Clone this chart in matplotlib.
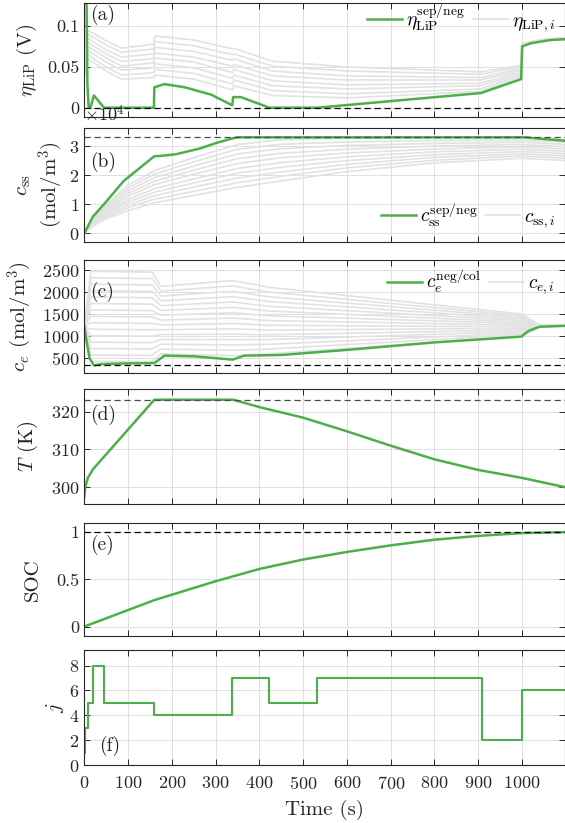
import numpy as np
import matplotlib.pyplot as plt
from matplotlib.lines import Line2D

plt.rcParams['font.family'] = 'serif'
plt.rcParams['font.serif'] = ['cmr10']
plt.rcParams['mathtext.fontset'] = 'cm'
plt.rcParams['axes.formatter.use_mathtext'] = True
plt.rcParams['axes.unicode_minus'] = False

GREEN = '#4daf4a'
GRAY = '#e2e2e2'

# (a) lithium plating overpotential
t_eta = [0, 5, 7, 10, 14, 22, 45, 159, 160, 183, 230, 290, 338, 340, 358, 423, 532, 906, 998, 1000, 1020, 1065, 1100]
eta_sep = [0.16, 0.14, 0.03, 0.0, 0.0, 0.015, 0.0, 0.0, 0.025, 0.029, 0.025, 0.016, 0.003, 0.013, 0.013, 0.0, 0.0, 0.018, 0.035, 0.075, 0.079, 0.083, 0.084]
t_eta_i = [3, 8, 50, 85, 159, 161, 250, 339, 341, 430, 600, 905, 999, 1001, 1050, 1100]
eta_i = [
    [0.085, 0.095, 0.082, 0.073, 0.078, 0.088, 0.083, 0.072, 0.073, 0.057, 0.050, 0.044, 0.052, 0.079, 0.084, 0.085],
    [0.079, 0.090, 0.077, 0.068, 0.072, 0.081, 0.076, 0.065, 0.066, 0.051, 0.045, 0.041, 0.050, 0.079, 0.084, 0.085],
    [0.072, 0.085, 0.071, 0.062, 0.066, 0.074, 0.069, 0.058, 0.060, 0.045, 0.039, 0.037, 0.048, 0.078, 0.084, 0.085],
    [0.066, 0.080, 0.066, 0.057, 0.060, 0.067, 0.062, 0.051, 0.053, 0.039, 0.034, 0.034, 0.046, 0.078, 0.084, 0.085],
    [0.059, 0.075, 0.061, 0.051, 0.055, 0.061, 0.056, 0.043, 0.047, 0.033, 0.028, 0.030, 0.044, 0.077, 0.084, 0.085],
    [0.053, 0.070, 0.056, 0.046, 0.049, 0.054, 0.049, 0.036, 0.040, 0.027, 0.023, 0.027, 0.042, 0.077, 0.084, 0.085],
    [0.046, 0.065, 0.050, 0.040, 0.043, 0.047, 0.042, 0.029, 0.034, 0.021, 0.017, 0.023, 0.040, 0.076, 0.084, 0.085],
    [0.040, 0.060, 0.045, 0.035, 0.037, 0.040, 0.035, 0.022, 0.027, 0.015, 0.012, 0.020, 0.038, 0.076, 0.084, 0.085],
]

# (b) surface concentration, mol/m^3
t_css = [0, 20, 45, 90, 160, 175, 210, 265, 300, 335, 350, 1008, 1050, 1100]
css_sep = [0, 5800, 10000, 18000, 26500, 26600, 27200, 29200, 31000, 32500, 33000, 33000, 32400, 31800]
t_css_i = [0, 20, 50, 100, 160, 250, 350, 450, 600, 800, 1000, 1100]
css_i = [
    [0, 5500, 9800, 16500, 21500, 26000, 30500, 32200, 32700, 32800, 32800, 32200],
    [0, 5200, 9300, 15500, 20300, 24600, 28900, 30600, 31400, 31900, 32000, 31400],
    [0, 4800, 8700, 14600, 19100, 23100, 27300, 29100, 30200, 30900, 31300, 30600],
    [0, 4500, 8200, 13600, 17900, 21700, 25700, 27500, 28900, 30000, 30500, 29800],
    [0, 4200, 7700, 12700, 16700, 20300, 24000, 26000, 27600, 29000, 29700, 29000],
    [0, 3800, 7100, 11600, 15300, 18700, 22300, 24300, 26300, 28000, 28900, 28200],
    [0, 3500, 6600, 10700, 14100, 17300, 20700, 22700, 25000, 27000, 28100, 27400],
    [0, 3200, 6100, 9700, 12900, 15900, 19000, 21100, 23700, 26100, 27300, 26600],
    [0, 2800, 5500, 8800, 11700, 14400, 17400, 19600, 22500, 25100, 26600, 25800],
    [0, 2500, 5000, 7800, 10500, 13000, 15800, 18000, 21200, 24200, 25800, 25000],
]

# (c) electrolyte concentration, mol/m^3
t_ce = [0, 5, 12, 22, 40, 100, 160, 183, 250, 339, 365, 450, 600, 800, 998, 1015, 1040, 1100]
ce_neg = [1230, 900, 500, 340, 370, 385, 390, 560, 545, 470, 560, 575, 690, 860, 990, 1120, 1215, 1235]
t_ce_i = [0, 15, 155, 175, 340, 420, 1000, 1040, 1100]
ce_i = [
    [1230, 430, 420, 600, 560, 600, 1000, 1210, 1235],
    [1230, 576, 565, 709, 681, 708, 1036, 1214, 1235],
    [1230, 721, 710, 819, 803, 816, 1071, 1217, 1236],
    [1230, 867, 855, 928, 924, 924, 1107, 1221, 1236],
    [1230, 1013, 1000, 1037, 1046, 1032, 1143, 1224, 1236],
    [1230, 1159, 1145, 1146, 1167, 1140, 1179, 1228, 1237],
    [1230, 1304, 1290, 1256, 1288, 1247, 1214, 1231, 1237],
    [1230, 1450, 1435, 1365, 1410, 1355, 1250, 1235, 1238],
    [1230, 1596, 1580, 1474, 1531, 1463, 1286, 1239, 1238],
    [1230, 1741, 1725, 1584, 1653, 1571, 1321, 1242, 1238],
    [1230, 1887, 1870, 1693, 1774, 1679, 1357, 1246, 1239],
    [1230, 2033, 2015, 1802, 1896, 1787, 1393, 1249, 1239],
    [1230, 2179, 2160, 1911, 2017, 1894, 1429, 1253, 1239],
    [1230, 2324, 2305, 2021, 2139, 2002, 1464, 1256, 1240],
    [1230, 2470, 2450, 2130, 2260, 2110, 1500, 1260, 1240],
]

# (d) temperature
t_T = [0, 2, 8, 20, 160, 340, 400, 500, 600, 700, 800, 900, 1000, 1100]
T = [297.5, 300, 302.5, 304.8, 323.15, 323.15, 321.2, 318.4, 314.8, 311.0, 307.4, 304.6, 302.5, 300.0]

# (e) state of charge
t_soc = [0, 100, 160, 300, 400, 500, 600, 700, 800, 900, 1000, 1100]
soc = [0, 0.175, 0.28, 0.48, 0.61, 0.71, 0.79, 0.86, 0.92, 0.96, 0.99, 1.0]

# (f) protocol index
t_j = [0, 2, 9, 19, 46, 160, 338, 422, 532, 908, 1000, 1100]
j = [1, 3, 5, 8, 5, 4, 7, 5, 7, 2, 6, 6]

W, H = 565, 823
fig = plt.figure(figsize=(W / 100, H / 100), dpi=100)


def make_ax(top, bottom):
    ax = fig.add_axes([84.3 / W, 1 - bottom / H, 480.2 / W, (bottom - top) / H])
    ax.set_xlim(0, 1097)
    ax.set_xticks(range(0, 1001, 100))
    ax.tick_params(direction='in', top=True, right=True, length=4, width=0.7,
                   color='0.15', labelsize=13, labelcolor='0.15', labelbottom=False)
    ax.tick_params(axis='x', pad=7)
    ax.grid(True, color='0.88', lw=0.7)
    ax.set_axisbelow(True)
    for s in ax.spines.values():
        s.set_color('0.15')
        s.set_linewidth(0.8)
    return ax


def ylab(ax, text, xpx):
    ax.set_ylabel(text, fontsize=15, va='center', color='0.15')
    ax.yaxis.set_label_coords((xpx - 84.3) / 480.2, 0.5)


def add_legend(ax, labels, **kw):
    ax.legend([Line2D([], [], color=GREEN, lw=1.8), Line2D([], [], color=GRAY, lw=1.2)],
              labels, ncol=2, frameon=False, fontsize=14, handlelength=1.8,
              columnspacing=0.4, handletextpad=0.2, **kw)


# (a)
ax = make_ax(3.3, 116.7)
for row in eta_i:
    ax.plot(t_eta_i, row, color=GRAY, lw=1.2)
ax.plot(t_eta, eta_sep, color=GREEN, lw=1.8)
ax.axhline(0, color='k', ls='--', lw=0.9, dashes=(5, 3))
ax.set_ylim(-0.011, 0.128)
ax.set_yticks([0, 0.05, 0.1], ['0', '0.05', '0.1'])
ylab(ax, r'$\eta_{\rm LiP}$ (V)', 27)
ax.text(0.012, 0.9, '(a)', transform=ax.transAxes, fontsize=14, va='center', color='0.15')
add_legend(ax, [r'$\eta_{\rm LiP}^{\rm sep/neg}$', r'$\eta_{{\rm LiP},i}$'],
           loc='upper right', bbox_to_anchor=(1.017, 1.165))

# (b)
ax = make_ax(128.3, 241.7)
for row in css_i:
    ax.plot(t_css_i, np.array(row) / 1e4, color=GRAY, lw=1.2)
ax.plot(t_css, np.array(css_sep) / 1e4, color=GREEN, lw=1.8)
ax.axhline(3.30, color='0.3', ls='--', lw=0.9, dashes=(5, 3))
ax.set_ylim(-0.29, 3.61)
ax.set_yticks([0, 1, 2, 3])
ylab(ax, '$c_{\\rm ss}$\n(mol/m$^3$)', 40)
ax.text(0.012, 0.7, '(b)', transform=ax.transAxes, fontsize=14, va='center', color='0.15')
add_legend(ax, [r'$c_{\rm ss}^{\rm sep/neg}$', r'$c_{{\rm ss},i}$'],
           loc='lower right', bbox_to_anchor=(1.017, -0.05))

fig.text(84 / W, 1 - 114 / H, r'$\times 10^4$', fontsize=13, va='center', ha='left', color='0.15', zorder=10)

# (c)
ax = make_ax(260, 373)
for row in ce_i:
    ax.plot(t_ce_i, row, color=GRAY, lw=1.2)
ax.plot(t_ce, ce_neg, color=GREEN, lw=1.8)
ax.axhline(340, color='k', ls='--', lw=0.9, dashes=(5, 3))
ax.set_ylim(167, 2726)
ax.set_yticks([500, 1000, 1500, 2000, 2500])
ylab(ax, r'$c_e$ (mol/m$^3$)', 20)
ax.text(0.012, 0.72, '(c)', transform=ax.transAxes, fontsize=14, va='center', color='0.15')
add_legend(ax, [r'$c_e^{\rm neg/col}$', r'$c_{e,i}$'],
           loc='upper right', bbox_to_anchor=(1.017, 1.085))

# (d)
ax = make_ax(389.3, 504)
ax.plot(t_T, T, color=GREEN, lw=1.8)
ax.axhline(323.15, color='0.3', ls='--', lw=0.9, dashes=(5, 3))
ax.set_ylim(295.6, 325.9)
ax.set_yticks([300, 310, 320])
ylab(ax, r'$T$ (K)', 28)
ax.text(0.012, 0.78, '(d)', transform=ax.transAxes, fontsize=14, va='center', color='0.15')

# (e)
ax = make_ax(522.7, 636)
ax.plot(t_soc, soc, color=GREEN, lw=1.8)
ax.axhline(1, color='k', ls='--', lw=0.9, dashes=(5, 3))
ax.set_ylim(-0.1, 1.1)
ax.set_yticks([0, 0.5, 1], ['0', '0.5', '1'])
ylab(ax, 'SOC', 33)
ax.text(0.012, 0.8, '(e)', transform=ax.transAxes, fontsize=14, va='center', color='0.15')

# (f)
ax = make_ax(650, 765)
ax.plot(t_j, j, color=GREEN, lw=1.5, drawstyle='steps-post')
ax.set_ylim(0, 9.25)
ax.set_yticks([0, 2, 4, 6, 8])
ax.tick_params(labelbottom=True)
ylab(ax, r'$j$', 55)
ax.set_xlabel('Time (s)', fontsize=15, color='0.15', labelpad=6)
ax.text(0.03, 0.17, '(f)', transform=ax.transAxes, fontsize=14, va='center', color='0.15')

fig.savefig('out.png', dpi=100)
